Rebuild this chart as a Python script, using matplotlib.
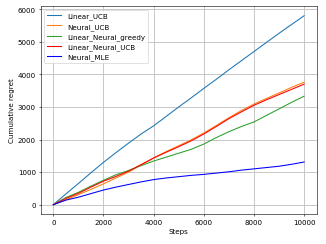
import matplotlib
matplotlib.use('Agg')
import matplotlib.pyplot as plt

steps = [0, 500, 1000, 1500, 2000, 2500, 3000, 3500, 4000, 4500, 5000,
         5500, 6000, 6500, 7000, 7500, 8000, 8500, 9000, 9500, 10000]

linear_ucb = [0, 330, 650, 980, 1300, 1600, 1890, 2170, 2420, 2710, 3000,
              3280, 3570, 3850, 4140, 4420, 4700, 4980, 5260, 5530, 5800]
neural_ucb = [0, 150, 310, 470, 640, 820, 1000, 1220, 1440, 1630, 1810,
              1990, 2200, 2430, 2670, 2890, 3090, 3260, 3430, 3600, 3760]
linear_neural_greedy = [0, 220, 380, 570, 750, 920, 1050, 1200, 1340, 1460, 1580,
                        1700, 1860, 2060, 2240, 2400, 2540, 2740, 2940, 3140, 3330]
linear_neural_ucb = [0, 190, 350, 540, 720, 870, 1030, 1230, 1430, 1610, 1780,
                     1960, 2170, 2400, 2640, 2850, 3050, 3220, 3380, 3540, 3700]
neural_mle = [0, 140, 230, 340, 450, 540, 620, 700, 770, 820, 860,
              900, 930, 970, 1010, 1060, 1100, 1140, 1180, 1240, 1310]

fig = plt.figure(figsize=(6.4, 4.8), dpi=51)
plt.subplots_adjust(left=0.125, right=0.97, bottom=0.122, top=0.971)
plt.plot(steps, linear_ucb, color='tab:blue', label='Linear_UCB')
plt.plot(steps, neural_ucb, color='tab:orange', label='Neural_UCB')
plt.plot(steps, linear_neural_greedy, color='tab:green', label='Linear_Neural_greedy')
plt.plot(steps, linear_neural_ucb, color='red', label='Linear_Neural_UCB')
plt.plot(steps, neural_mle, color='blue', label='Neural_MLE')
plt.xlabel('Steps')
plt.ylabel('Cumulative regret')
plt.legend(loc='upper left')
plt.grid(True, color='#c4c4c4', linewidth=1.3)
plt.savefig('out.png', dpi=51)
